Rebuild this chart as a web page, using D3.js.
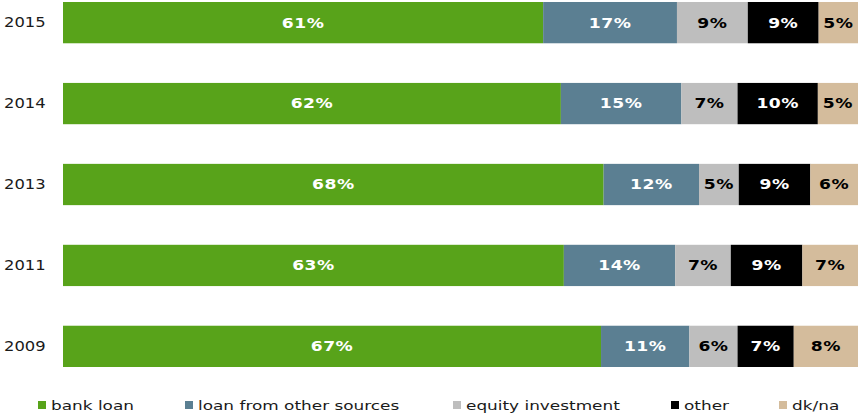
<!DOCTYPE html>
<html>
<head>
<meta charset="utf-8">
<script src="https://cdn.jsdelivr.net/npm/d3@7"></script>
<style>
  html, body { margin: 0; padding: 0; background: #fff; }
  svg { display: block; font-family: "DejaVu Sans", Verdana, sans-serif; }
</style>
</head>
<body>
<svg id="chart" width="859" height="415"></svg>
<script>
// Sources of business financing by year (shares, %)
const years = ["2015", "2014", "2013", "2011", "2009"];
const seriesNames = ["bank loan", "loan from other sources", "equity investment", "other", "dk/na"];
const bankLoan      = [61, 62, 68, 63, 67];
const otherSources  = [17, 15, 12, 14, 11];
const equity        = [9, 7, 5, 7, 6];
const otherFinance  = [9, 10, 9, 9, 7];
const dkna          = [5, 5, 6, 7, 8];

const colors     = ["#58a31a", "#5b7f92", "#bebebe", "#000000", "#d4bc9c"];
const textColors = ["#ffffff", "#ffffff", "#000000", "#ffffff", "#000000"];

const seriesValues = [bankLoan, otherSources, equity, otherFinance, dkna];

const rows = years.map((y, i) => {
  const row = { year: y };
  seriesNames.forEach((s, k) => row[s] = seriesValues[k][i]);
  return row;
});

// Each bar fills the full width: shares are stacked as fractions of the row total
const stack = d3.stack().keys(seriesNames).offset(d3.stackOffsetExpand);
const layers = stack(rows);

const svg = d3.select("#chart");
const x = d3.scaleLinear().domain([0, 1]).range([63, 858]);
const y = d3.scaleBand().domain(years).range([2, 367]).paddingInner(0.49);

// Text is set in a horizontally widened face
const wide = (tx, ty, sx) => `translate(${tx},${ty}) scale(${sx},1)`;

const g = svg.append("g");

layers.forEach((layer, k) => {
  const grp = g.append("g");
  grp.selectAll("rect")
    .data(layer)
    .join("rect")
    .attr("x", d => x(d[0]))
    .attr("y", d => y(d.data.year))
    .attr("width", d => x(d[1]) - x(d[0]))
    .attr("height", y.bandwidth())
    .attr("fill", colors[k]);

  grp.selectAll("text")
    .data(layer)
    .join("text")
    .attr("transform", d => wide((x(d[0]) + x(d[1])) / 2, y(d.data.year) + y.bandwidth() / 2, 1.27))
    .attr("dy", "0.36em")
    .attr("text-anchor", "middle")
    .attr("font-size", 13.5)
    .attr("font-weight", "bold")
    .attr("letter-spacing", "0.4px")
    .attr("fill", textColors[k])
    .text(d => d.data[seriesNames[k]] + "%");
});

// Year labels
const yAxis = d3.axisLeft(y).tickSize(0).tickPadding(0);
const ax = svg.append("g").call(yAxis);
ax.select(".domain").remove();
ax.selectAll(".tick").attr("transform", d => wide(4, y(d) + y.bandwidth() / 2, 1.17));
ax.selectAll("text")
  .attr("text-anchor", "start")
  .attr("font-family", "DejaVu Sans, Verdana, sans-serif")
  .attr("font-size", 14)
  .attr("fill", "#1a1a1a");

// Legend
const legendX = [38, 185, 453, 671, 779];
const legend = svg.append("g").selectAll("g")
  .data(seriesNames)
  .join("g")
  .attr("transform", (d, i) => `translate(${legendX[i]},405)`);
legend.append("rect")
  .attr("x", 0).attr("y", -4)
  .attr("width", 8).attr("height", 8)
  .attr("fill", (d, i) => colors[i]);
legend.append("text")
  .attr("transform", wide(13, 0, 1.3))
  .attr("dy", "0.36em")
  .attr("font-size", 13)
  .attr("fill", "#1a1a1a")
  .text(d => d);
</script>
</body>
</html>
